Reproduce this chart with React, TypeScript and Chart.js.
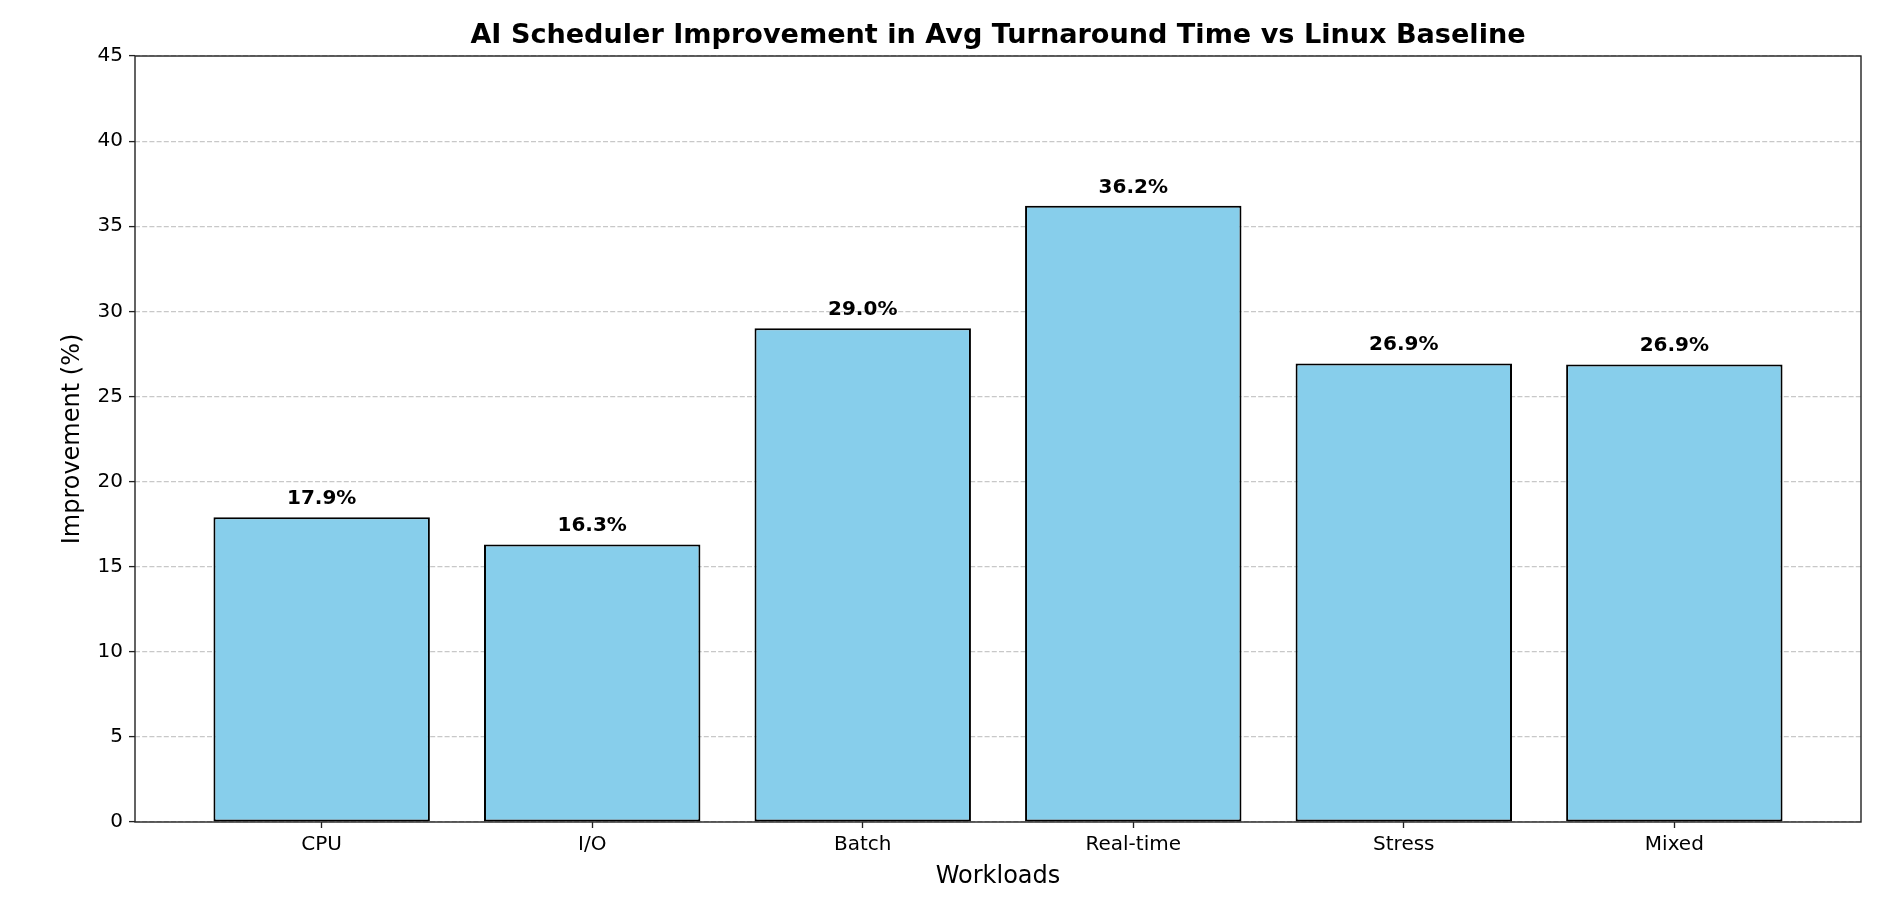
import React, { useEffect, useRef } from "react";
import { Chart, registerables } from "chart.js";

Chart.register(...registerables);

const categories = ["CPU", "I/O", "Batch", "Real-time", "Stress", "Mixed"];
const improvements = [17.9, 16.3, 29.0, 36.2, 26.93, 26.87];
const barLabels = ["17.9%", "16.3%", "29.0%", "36.2%", "26.9%", "26.9%"];
const yTickValues = [0, 5, 10, 15, 20, 25, 30, 35, 40, 45];
const chartTitle = "AI Scheduler Improvement in Avg Turnaround Time vs Linux Baseline";
const xAxisLabel = "Workloads";
const yAxisLabel = "Improvement (%)";

const FONT = "'DejaVu Sans', 'Liberation Sans', sans-serif";

const frameAndLabels = {
  id: "frameAndLabels",
  afterDatasetsDraw(chart: any) {
    const ctx = chart.ctx;
    const meta = chart.getDatasetMeta(0);
    const yScale = chart.scales.y;
    ctx.save();
    ctx.font = `bold 20px ${FONT}`;
    ctx.fillStyle = "#000";
    ctx.textAlign = "center";
    ctx.textBaseline = "bottom";
    meta.data.forEach((bar: any, i: number) => {
      const y = yScale.getPixelForValue(improvements[i] + 0.5);
      ctx.fillText(barLabels[i], bar.x, y);
    });
    ctx.restore();
  },
  afterDraw(chart: any) {
    const { ctx, chartArea } = chart;
    ctx.save();
    ctx.strokeStyle = "#222";
    ctx.lineWidth = 1.4;
    ctx.setLineDash([]);
    ctx.strokeRect(
      chartArea.left,
      chartArea.top,
      chartArea.right - chartArea.left,
      chartArea.bottom - chartArea.top
    );
    ctx.restore();
  },
};

export default function App() {
  const canvasRef = useRef<HTMLCanvasElement | null>(null);

  useEffect(() => {
    const canvas = canvasRef.current;
    if (!canvas) return;
    const n = categories.length;
    const span = n - 1 + 0.8;
    const xMin = -0.4 - 0.05 * span;
    const xMax = n - 1 + 0.4 + 0.05 * span;

    const chart = new Chart(canvas, {
      type: "bar",
      data: {
        datasets: [
          {
            data: improvements.map((v, i) => ({ x: i, y: v })),
            backgroundColor: "#87CEEB",
            borderColor: "#000000",
            borderWidth: 2,
            borderSkipped: false,
            barPercentage: 0.8,
            categoryPercentage: 1.0,
          },
        ],
      },
      options: {
        responsive: false,
        animation: false,
        devicePixelRatio: 1,
        layout: { padding: { left: 0, right: 32, top: 0, bottom: 0 } },
        plugins: {
          legend: { display: false },
          tooltip: { enabled: false },
          title: {
            display: true,
            text: chartTitle,
            fullSize: false,
            color: "#000",
            font: { family: FONT, size: 27.1, weight: "bold", lineHeight: 1.2 },
            padding: { top: 20, bottom: 3.5 },
          },
        },
        scales: {
          x: {
            type: "linear",
            min: xMin,
            max: xMax,
            offset: false,
            afterBuildTicks: (scale: any) => {
              scale.ticks = categories.map((_, i) => ({ value: i }));
            },
            afterFit: (scale: any) => {
              scale.height = 83;
            },
            ticks: {
              autoSkip: false,
              maxRotation: 0,
              padding: 5,
              color: "#000",
              font: { family: FONT, size: 20 },
              callback: (v: any) => categories[Math.round(v)] ?? "",
            },
            grid: {
              offset: false,
              drawOnChartArea: false,
              drawTicks: true,
              tickLength: 6,
              tickColor: "#222",
              tickWidth: 1.33,
            },
            border: { display: false },
            title: {
              display: true,
              text: xAxisLabel,
              color: "#000",
              font: { family: FONT, size: 24, lineHeight: 1.2 },
              padding: { top: 0, bottom: 14 },
            },
          },
          y: {
            type: "linear",
            min: 0,
            max: 45,
            z: 1,
            afterBuildTicks: (scale: any) => {
              scale.ticks = yTickValues.map((v) => ({ value: v }));
            },
            afterFit: (scale: any) => {
              scale.width = 135;
            },
            ticks: {
              padding: 6,
              color: "#000",
              font: { family: FONT, size: 20 },
            },
            grid: {
              color: "rgba(176,176,176,0.7)",
              lineWidth: 1.2,
              drawTicks: true,
              tickLength: 6,
              tickColor: "#222",
              tickWidth: 1.33,
              tickBorderDash: [],
            },
            border: { display: false, dash: [5, 2.2] },
            title: {
              display: true,
              text: yAxisLabel,
              color: "#000",
              font: { family: FONT, size: 24, lineHeight: 1.2 },
              padding: { top: 58, bottom: 0 },
            },
          },
        },
      },
      plugins: [frameAndLabels],
    } as any);

    return () => chart.destroy();
  }, []);

  return (
    <div style={{ position: "absolute", left: 0, top: 0, width: 1893, height: 905, background: "#fff" }}>
      <canvas ref={canvasRef} width={1893} height={905} style={{ display: "block" }} />
    </div>
  );
}
